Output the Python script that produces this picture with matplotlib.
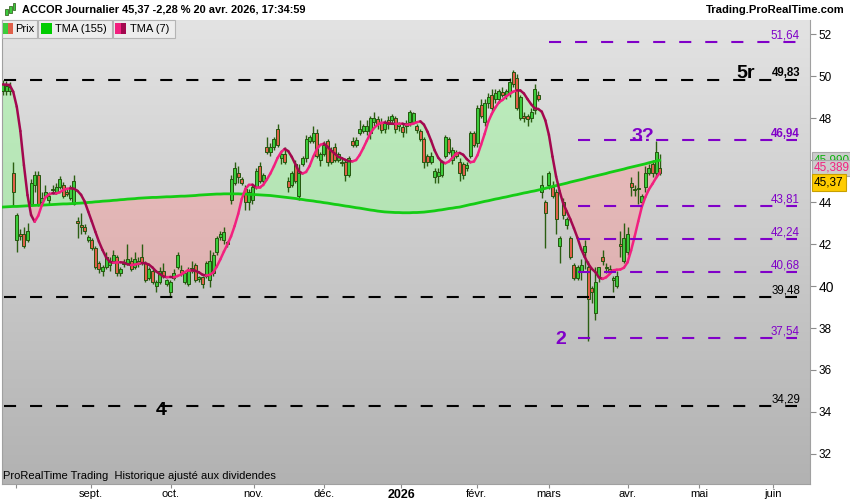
## ACCOR journalier - bougies, TMA(155), TMA(7) et niveaux

import numpy as np
import pandas as pd
import matplotlib
matplotlib.use("Agg")
import matplotlib.pyplot as plt
from matplotlib.collections import LineCollection
from matplotlib.patches import Rectangle
from matplotlib.colors import LinearSegmentedColormap
from matplotlib import font_manager

#Cours

opens = [49.3, 49.3, 49.3, 45.4, 42.2, 42.5, 42.5, 42.2, 43.9, 44.8,
         45.3, 44.0, 44.3, 44.1, 44.55, 44.5, 44.7, 44.8, 44.45, 44.2,
         43.9, 43.1, 42.9, 42.8, 42.2, 42.2, 41.8, 41.1, 40.7, 40.9,
         41.0, 41.2, 41.4, 40.6, 41.05, 41.1, 41.2, 40.9, 41.05, 41.4,
         41.1, 40.4, 40.7, 40.0, 40.2, 40.7, 40.1, 39.7, 40.4, 40.9,
         40.75, 40.2, 40.1, 40.85, 41.0, 40.35, 40.45, 40.5, 40.3, 40.6,
         41.6, 42.35, 42.2, 42.0, 44.1, 44.9, 45.4, 45.1, 44.6, 44.0,
         44.1, 44.7, 45.7, 45.0, 46.6, 46.4, 46.6, 47.5, 46.1, 46.3,
         45.0, 44.8, 45.8, 44.3, 45.8, 46.1, 46.9, 46.9, 47.3, 46.0,
         46.3, 46.9, 46.5, 46.6, 46.0, 45.9, 45.9, 45.3, 46.9, 46.7,
         47.3, 47.4, 47.4, 47.3, 47.8, 47.95, 47.8, 47.5, 47.9, 47.9,
         48.0, 47.6, 47.55, 47.6, 47.8, 47.8, 47.6, 47.4, 47.0, 46.2,
         45.9, 45.2, 45.25, 45.3, 46.2, 47.0, 46.0, 46.4, 45.9, 45.8,
         45.6, 46.2, 47.3, 46.8, 48.6, 47.8, 48.7, 49.1, 48.9, 48.9,
         49.25, 49.1, 49.2, 50.2, 49.9, 48.0, 48.1, 48.1, 48.0, 48.4,
         49.1, 44.5, 44.0, 44.8, 44.7, 44.5, 41.9, 44.0, 42.9, 42.3,
         41.0, 40.4, 40.7, 41.6, 40.9, 39.9, 38.7, 40.5, 41.4, 40.85,
         40.8, 40.3, 40.0, 42.0, 41.2, 41.6, 44.9, 44.55, 44.6, 44.0,
         44.7, 45.4, 45.8, 45.4, 45.6]

highs = [49.8, 49.75, 49.7, 45.9, 43.5, 42.7, 42.8, 43.0, 45.1, 45.5,
         45.5, 44.5, 44.8, 44.5, 44.8, 44.9, 45.25, 44.95, 44.6, 44.8,
         45.3, 43.3, 43.5, 42.95, 42.45, 42.3, 41.9, 41.2, 41.0, 41.6,
         41.4, 41.7, 41.5, 40.9, 41.3, 42.0, 41.4, 41.6, 41.4, 42.0,
         41.2, 40.9, 40.8, 40.3, 40.9, 41.1, 40.35, 40.3, 40.8, 41.6,
         41.0, 40.7, 40.9, 41.2, 41.1, 40.5, 40.5, 41.2, 41.7, 41.6,
         42.4, 42.6, 42.8, 42.15, 45.3, 45.9, 45.7, 45.2, 44.8, 44.6,
         44.8, 45.6, 45.9, 45.4, 47.1, 46.8, 47.1, 47.7, 46.5, 46.6,
         45.2, 45.5, 46.0, 45.8, 46.2, 47.2, 47.2, 47.6, 47.5, 46.4,
         46.9, 47.0, 46.6, 46.8, 46.4, 46.1, 46.0, 46.2, 47.1, 47.1,
         47.9, 47.7, 47.9, 48.1, 48.3, 48.1, 48.0, 47.9, 48.1, 48.2,
         48.1, 47.8, 47.7, 47.9, 48.4, 48.3, 47.7, 47.5, 47.1, 46.3,
         46.4, 45.6, 45.6, 46.0, 47.2, 47.1, 46.6, 46.5, 46.1, 45.9,
         45.9, 47.4, 47.4, 48.6, 48.9, 48.9, 49.2, 49.4, 49.4, 49.4,
         49.5, 49.4, 49.9, 50.3, 50.1, 49.1, 48.3, 48.2, 48.5, 49.6,
         49.3, 45.3, 44.1, 45.5, 45.0, 44.6, 42.4, 44.2, 43.3, 42.4,
         41.1, 41.0, 41.3, 42.2, 41.2, 40.0, 40.9, 40.9, 41.7, 41.1,
         41.0, 40.5, 40.7, 42.6, 43.0, 42.8, 45.2, 44.8, 45.5, 44.4,
         45.7, 45.8, 46.0, 46.9, 46.3]

lows = [49.1, 49.1, 49.1, 43.8, 41.6, 42.2, 41.8, 42.1, 43.8, 44.5,
        43.8, 43.9, 44.2, 43.9, 44.4, 44.4, 44.6, 44.2, 44.3, 44.1,
        43.85, 42.3, 42.5, 42.5, 42.1, 41.7, 40.8, 40.6, 40.5, 40.8,
        40.7, 41.1, 40.5, 40.5, 40.9, 41.0, 40.7, 40.8, 40.9, 41.0,
        40.2, 40.3, 40.1, 39.7, 40.1, 40.4, 40.0, 39.5, 40.3, 40.8,
        40.5, 40.1, 40.0, 40.6, 40.2, 40.2, 39.9, 40.4, 39.95, 40.5,
        41.5, 42.2, 42.0, 41.85, 43.9, 44.8, 44.9, 44.8, 43.6, 43.6,
        43.9, 44.6, 44.9, 44.9, 46.3, 46.2, 46.5, 46.6, 45.8, 45.8,
        44.5, 44.7, 44.9, 44.1, 45.7, 45.9, 46.8, 46.8, 46.1, 45.7,
        46.2, 45.7, 45.8, 45.9, 45.9, 45.7, 45.0, 45.2, 46.6, 46.6,
        47.2, 47.3, 47.2, 47.0, 47.6, 47.5, 47.3, 47.3, 47.5, 47.7,
        47.3, 47.4, 47.1, 47.3, 47.6, 47.7, 47.3, 46.9, 45.6, 45.7,
        45.8, 44.9, 44.9, 45.2, 46.1, 46.3, 45.8, 46.1, 45.0, 45.1,
        45.5, 46.1, 46.6, 46.6, 48.0, 47.6, 48.5, 48.3, 48.7, 48.7,
        49.0, 48.9, 49.0, 49.5, 48.4, 47.9, 47.8, 47.6, 47.8, 48.2,
        48.8, 44.2, 41.8, 44.6, 44.2, 42.5, 41.1, 43.2, 42.7, 41.3,
        40.3, 40.3, 40.3, 40.8, 37.4, 39.2, 38.4, 40.2, 41.0, 40.6,
        40.6, 39.7, 39.9, 41.4, 41.1, 41.5, 44.3, 44.3, 43.9, 43.9,
        44.5, 45.3, 45.2, 45.2, 45.3]

closes = [49.6, 49.55, 49.5, 44.5, 43.4, 42.4, 41.9, 42.6, 44.9, 45.3,
          43.9, 44.2, 44.5, 44.3, 44.62, 44.7, 45.1, 44.3, 44.4, 44.7,
          45.0, 43.0, 42.8, 42.6, 42.35, 41.8, 40.9, 40.8, 40.9, 41.4,
          41.2, 41.5, 40.6, 40.8, 41.1, 41.3, 40.8, 41.3, 41.2, 41.1,
          40.3, 40.8, 40.2, 40.2, 40.7, 40.5, 40.3, 40.2, 40.6, 41.5,
          40.6, 40.6, 40.7, 40.7, 40.3, 40.45, 40.1, 41.1, 41.2, 41.5,
          42.3, 42.46, 42.55, 42.1, 45.1, 45.6, 45.2, 44.9, 44.0, 44.5,
          44.7, 45.5, 45.0, 45.3, 46.4, 46.6, 47.0, 46.7, 46.3, 45.9,
          44.7, 45.4, 45.0, 45.4, 46.1, 47.0, 47.1, 47.3, 46.2, 46.3,
          46.7, 45.9, 45.9, 46.0, 46.3, 45.85, 45.3, 46.1, 46.7, 46.95,
          47.5, 47.6, 47.6, 48.0, 48.0, 47.7, 47.45, 47.75, 47.7, 48.1,
          47.5, 47.7, 47.35, 47.75, 48.3, 48.25, 47.45, 47.0, 45.9, 45.9,
          46.2, 45.5, 45.45, 45.9, 47.1, 46.4, 46.5, 46.2, 45.4, 45.3,
          45.75, 47.3, 46.7, 48.5, 48.1, 48.7, 49.0, 48.5, 49.2, 49.3,
          49.1, 49.3, 49.7, 49.6, 48.5, 49.0, 48.0, 47.95, 48.3, 49.4,
          48.9, 44.8, 43.5, 45.4, 44.3, 43.2, 42.3, 43.4, 43.2, 41.4,
          40.4, 40.9, 41.0, 41.9, 39.4, 39.7, 40.2, 40.9, 41.2, 40.9,
          40.7, 40.3, 40.5, 41.9, 42.3, 42.5, 44.7, 44.6, 44.65, 44.3,
          45.4, 45.6, 45.4, 46.4, 45.37]

#TMA(155) (pas d'historique avant le debut)
tma155_lue = [43.76, 43.77, 43.78, 43.79, 43.79, 43.80, 43.81, 43.82, 43.83, 43.84,
              43.85, 43.85, 43.86, 43.87, 43.88, 43.89, 43.90, 43.91, 43.91, 43.92,
              43.93, 43.94, 43.95, 43.96, 43.98, 43.99, 44.01, 44.02, 44.04, 44.05,
              44.06, 44.08, 44.09, 44.11, 44.12, 44.14, 44.15, 44.16, 44.18, 44.19,
              44.20, 44.21, 44.22, 44.22, 44.23, 44.24, 44.25, 44.25, 44.26, 44.27,
              44.28, 44.28, 44.29, 44.30, 44.31, 44.33, 44.34, 44.35, 44.36, 44.37,
              44.38, 44.38, 44.39, 44.39, 44.39, 44.39, 44.39, 44.38, 44.38, 44.37,
              44.36, 44.35, 44.34, 44.33, 44.32, 44.31, 44.29, 44.27, 44.25, 44.23,
              44.21, 44.19, 44.17, 44.14, 44.12, 44.09, 44.07, 44.05, 44.02, 44.00,
              43.97, 43.95, 43.92, 43.89, 43.87, 43.84, 43.81, 43.79, 43.76, 43.73,
              43.71, 43.68, 43.65, 43.62, 43.60, 43.57, 43.55, 43.53, 43.52, 43.51,
              43.50, 43.50, 43.49, 43.49, 43.49, 43.50, 43.50, 43.51, 43.52, 43.54,
              43.56, 43.58, 43.61, 43.63, 43.66, 43.69, 43.71, 43.74, 43.76, 43.80,
              43.84, 43.88, 43.91, 43.95, 43.99, 44.03, 44.06, 44.10, 44.14, 44.17,
              44.21, 44.24, 44.28, 44.32, 44.35, 44.39, 44.43, 44.46, 44.50, 44.53,
              44.57, 44.61, 44.65, 44.70, 44.74, 44.78, 44.82, 44.86, 44.90, 44.95,
              44.99, 45.03, 45.07, 45.11, 45.16, 45.20, 45.24, 45.28, 45.32, 45.36,
              45.41, 45.45, 45.49, 45.53, 45.57, 45.62, 45.66, 45.70, 45.74, 45.78,
              45.82, 45.87, 45.91, 45.95, 45.99]

#Niveaux horizontaux
niveaux_noirs = [49.83, 39.48, 34.29]
gras_noirs = [True, False, False]
niveaux_violets = [51.64, 46.94, 43.81, 42.24, 40.68, 37.54]
gras_violets = [False, True, False, False, False, False]
debut_violets = [152.9, 161.0, 161.0, 161.0, 161.0, 161.0]

#Axe du temps (en barres)
mois_pos = [3.8, 24.7, 47.1, 70.3, 90.1, 111.6, 132.8, 152.9, 175.0, 195.1, 215.8]
mois_noms = ['', 'sept.', 'oct.', 'nov.', 'déc.', '2026', 'févr.', 'mars', 'avr.', 'mai', 'juin']

titre = "ACCOR Journalier 45,37 -2,28 % 20 avr. 2026, 17:34:59"

#Polices
noms = {f.name for f in font_manager.fontManager.ttflist}
police = 'Liberation Sans' if 'Liberation Sans' in noms else 'DejaVu Sans'
etroite = 'Liberation Sans Narrow' if 'Liberation Sans Narrow' in noms else police
plt.rcParams['font.family'] = police

VIOLET = '#8000c8'
ROSE = '#f2207f'
BORDEAUX = '#a3084f'
VERT = '#14cc14'

def virgule(v, n=2):
    return f"{v:.{n}f}".replace('.', ',')

o = np.array(opens)
h = np.array(highs)
l = np.array(lows)
c = np.array(closes)
x = np.arange(len(c))
tma155 = np.array(tma155_lue)
#TMA(7) = moyenne de moyenne sur 4
tma7 = pd.Series(c).rolling(4, min_periods=1).mean().rolling(4, min_periods=1).mean().values

fig = plt.figure(figsize=(8.5, 5), dpi=100)
ax = fig.add_axes([2/850, 16/500, 808/850, 464/500])

#fond degrade
grad = np.linspace(0, 1, 256).reshape(-1, 1)
fond = LinearSegmentedColormap.from_list('fond', ['#e3e3e3', '#b2b2b2'])
ax.imshow(grad, extent=[0, 1, 0, 1], transform=ax.transAxes, cmap=fond,
          aspect='auto', zorder=0)

#remplissage entre les deux moyennes
ax.fill_between(x, tma7, tma155, where=tma7 >= tma155, interpolate=True,
                color=(0.59, 1, 0.59), alpha=0.45, lw=0, zorder=1)
ax.fill_between(x, tma7, tma155, where=tma7 < tma155, interpolate=True,
                color=(1, 0.59, 0.59), alpha=0.42, lw=0, zorder=1)

#bougies
hausse = c >= o
ax.vlines(x, l, h, color='#2b5e12', lw=1.0, zorder=2)
corps = np.maximum(np.abs(c - o), 0.06)
ax.bar(x, corps, bottom=np.minimum(o, c), width=0.82,
       color=np.where(hausse, '#3ccc3c', '#e0604a'),
       edgecolor='#25560f', linewidth=0.7, zorder=3)

#moyennes
ax.plot(x, tma155, color=VERT, lw=2, zorder=4)
pts = np.column_stack([x, tma7])
segs = np.stack([pts[:-1], pts[1:]], axis=1)
couleurs = np.where(np.diff(tma7) >= 0, ROSE, BORDEAUX)
ax.add_collection(LineCollection(segs, colors=couleurs, linewidths=1.8,
                                 capstyle='round', zorder=5))

#niveaux
fin = 222.6
x_txt = 223.3
for v, g in zip(niveaux_noirs, gras_noirs):
    ax.plot([0.4, fin], [v, v], color='black', lw=1.5, dashes=(5.8, 6.7), zorder=6)
    ax.text(x_txt, v + 0.31, virgule(v), ha='right', va='center', fontsize=8.3,
            color='black', weight='bold' if g else 'normal', zorder=7)
for v, g, d in zip(niveaux_violets, gras_violets, debut_violets):
    ax.plot([d, fin], [v, v], color=VIOLET, lw=1.5, dashes=(5.8, 6.7), zorder=6)
    ax.text(x_txt, v + 0.31, virgule(v), ha='right', va='center', fontsize=8.3,
            color=VIOLET, weight='bold' if g else 'normal', zorder=7)

#etiquettes de vagues
ax.text(208.2, 50.1, '5r', ha='center', va='center', fontsize=14, weight='bold',
        color='black', zorder=8)
ax.text(179.2, 47.1, '3?', ha='center', va='center', fontsize=14, weight='bold',
        color=VIOLET, zorder=8)
ax.text(156.3, 37.45, '2', ha='center', va='center', fontsize=14, weight='bold',
        color=VIOLET, zorder=8)
ax.text(44.5, 34.05, '4', ha='center', va='center', fontsize=14, weight='bold',
        color='black', zorder=8)

ax.set_xlim(-0.14, 226.1)
ax.set_ylim(30.57, 52.67)

#axe des prix a droite
ax.yaxis.tick_right()
ax.set_yticks(range(32, 53, 2))
ax.set_yticklabels([str(v) for v in range(32, 53, 2)])
ax.tick_params(axis='y', direction='out', length=4, color='#8c8c8c',
               labelsize=8.5, pad=2)
for lab in ax.get_yticklabels():
    if lab.get_text() == '40':
        lab.set_fontsize(10)

ax.set_xticks(mois_pos)
ax.set_xticklabels(mois_noms)
ax.tick_params(axis='x', direction='out', length=3, color='#8c8c8c',
               labelsize=8, pad=0.5)
for lab in ax.get_xticklabels():
    lab.set_family(etroite)
    if lab.get_text() == '2026':
        lab.set_weight('bold')
        lab.set_fontsize(9)

for s in ['top']:
    ax.spines[s].set_visible(False)
for s in ['left', 'right', 'bottom']:
    ax.spines[s].set_color('#a0a0a0')

#cadres des derniers cours sur l'axe
ax.annotate(virgule(tma155[-1], 3), xy=(1, tma155[-1]), xycoords=('axes fraction', 'data'),
            xytext=(3, 0), textcoords='offset points', ha='left', va='center',
            fontsize=8.5, color='#10b010', annotation_clip=False, zorder=9,
            bbox=dict(boxstyle='square,pad=0.15', fc='#cdcdcd', ec='#a8a8a8', lw=0.8))
ax.annotate(virgule(tma7[-1], 3), xy=(1, tma7[-1]), xycoords=('axes fraction', 'data'),
            xytext=(3, 3.6), textcoords='offset points', ha='left', va='center',
            fontsize=8.5, color=ROSE, annotation_clip=False, zorder=9,
            bbox=dict(boxstyle='square,pad=0.15', fc='#cdcdcd', ec='#a8a8a8', lw=0.8))
ax.annotate(virgule(c[-1]), xy=(1, c[-1]), xycoords=('axes fraction', 'data'),
            xytext=(3, -6.5), textcoords='offset points', ha='left', va='center',
            fontsize=8.5, color='black', annotation_clip=False, zorder=10,
            bbox=dict(boxstyle='square,pad=0.2', fc='#ffcc00', ec='#c8a000', lw=0.8))

#en-tete
H = 500.0
W = 850.0
fig.text(22/W, 1 - 10/H, titre, fontsize=7.9, weight='bold', va='center', ha='left')
fig.text(845/W, 1 - 10/H, 'Trading.ProRealTime.com', fontsize=8.1, weight='bold',
         va='center', ha='right')
#petite icone de bougies
for xi, y0, hh in [(5, 9, 6), (9, 6, 7), (13, 3, 7)]:
    fig.add_artist(Rectangle((xi/W, 1 - (y0 + hh)/H), 2.5/W, hh/H, transform=fig.transFigure,
                             fc='#3ccc3c', ec='#25560f', lw=0.5))

#legende
def boite(x0, larg):
    fig.add_artist(Rectangle((x0/W, 1 - 38/H), larg/W, 18/H, transform=fig.transFigure,
                             fc='#ededed', ec='#b4b4b4', lw=0.8, zorder=10))

def carre(x0, coul, larg=12):
    fig.add_artist(Rectangle((x0/W, 1 - 34/H), larg/W, 11/H, transform=fig.transFigure,
                             fc=coul, ec='none', zorder=11))

boite(2, 35)
carre(3, '#3ccc3c', 5)
carre(8, '#e0604a', 5)
fig.text(15/W, 1 - 29/H, 'Prix', fontsize=8, va='center', zorder=12)
boite(38, 74)
carre(41, '#00cc00', 11)
fig.text(55/W, 1 - 29/H, 'TMA (155)', fontsize=8, va='center', zorder=12)
boite(113, 62)
carre(115, ROSE, 6)
carre(121, BORDEAUX, 5)
fig.text(130/W, 1 - 29/H, 'TMA (7)', fontsize=8, va='center', zorder=12)

fig.text(3/W, 1 - 476/H, 'ProRealTime Trading  Historique ajusté aux dividendes',
         fontsize=8, family=etroite, va='center', ha='left')

fig.savefig('out.png', dpi=100, facecolor='white')
